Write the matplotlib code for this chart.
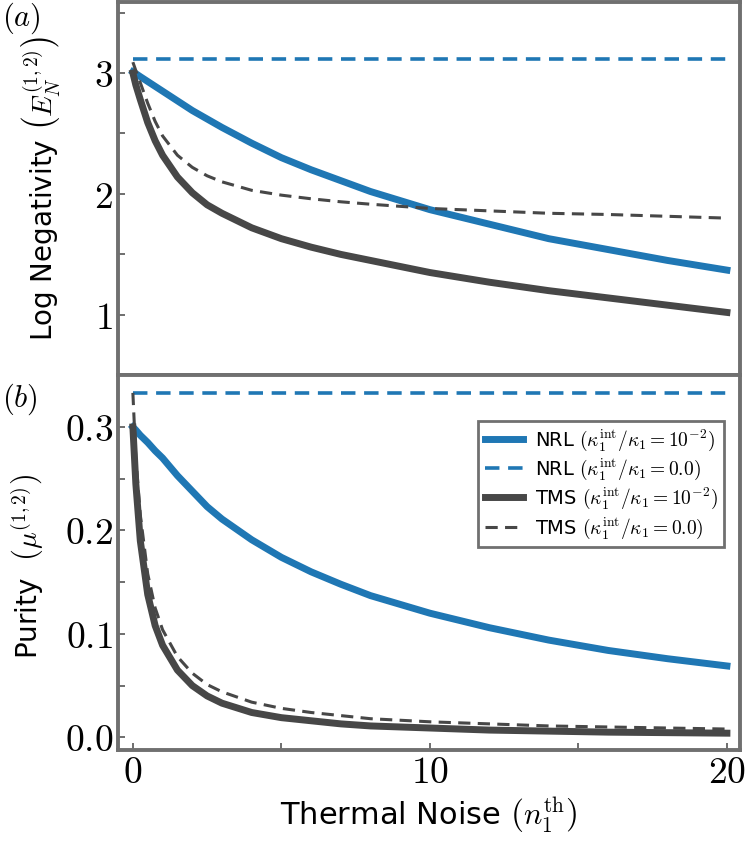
import numpy as np
import matplotlib
matplotlib.use('Agg')
import matplotlib.pyplot as plt
from matplotlib.ticker import FixedLocator, FormatStrFormatter, AutoMinorLocator

plt.rcParams['mathtext.fontset'] = 'cm'
plt.rcParams['font.family'] = 'DejaVu Sans'

# thermal noise grid
n_th = [0, 0.1, 0.25, 0.5, 0.75, 1, 1.5, 2, 2.5, 3, 4, 5, 6, 7, 8, 10, 12, 14, 16, 18, 20]

# (a) log negativity
logneg_nrl = [3.01, 2.995, 2.97, 2.93, 2.89, 2.85, 2.77, 2.69, 2.62, 2.55, 2.42, 2.30, 2.20, 2.11, 2.02, 1.87, 1.75, 1.63, 1.54, 1.45, 1.37]
logneg_nrl_ideal = [3.116] * len(n_th)
logneg_tms = [3.00, 2.90, 2.78, 2.59, 2.44, 2.32, 2.14, 2.01, 1.91, 1.84, 1.72, 1.63, 1.56, 1.50, 1.45, 1.35, 1.27, 1.20, 1.14, 1.08, 1.02]
logneg_tms_ideal = [3.09, 3.02, 2.92, 2.75, 2.60, 2.48, 2.32, 2.22, 2.15, 2.10, 2.03, 1.99, 1.96, 1.935, 1.915, 1.88, 1.86, 1.84, 1.83, 1.815, 1.80]

# (b) purity
purity_nrl = [0.300, 0.297, 0.292, 0.285, 0.277, 0.270, 0.253, 0.238, 0.223, 0.211, 0.191, 0.174, 0.160, 0.148, 0.137, 0.120, 0.106, 0.094, 0.084, 0.076, 0.069]
purity_nrl_ideal = [0.333] * len(n_th)
purity_tms = [0.300, 0.245, 0.190, 0.138, 0.108, 0.089, 0.065, 0.050, 0.040, 0.033, 0.024, 0.019, 0.016, 0.013, 0.011, 0.009, 0.007, 0.006, 0.005, 0.0045, 0.004]
purity_tms_ideal = [0.333, 0.270, 0.215, 0.158, 0.125, 0.104, 0.078, 0.062, 0.051, 0.044, 0.034, 0.028, 0.024, 0.021, 0.018, 0.015, 0.013, 0.011, 0.010, 0.009, 0.008]

labels = [r'NRL $(\kappa_1^{\rm int}/\kappa_1 = 10^{-2})$',
          r'NRL $(\kappa_1^{\rm int}/\kappa_1 = 0.0)$',
          r'TMS $(\kappa_1^{\rm int}/\kappa_1 = 10^{-2})$',
          r'TMS $(\kappa_1^{\rm int}/\kappa_1 = 0.0)$']

blue = '#1f77b4'
dark = '#474747'
spine_col = '#707070'

fig = plt.figure(figsize=(7.47, 8.51), dpi=100)
ax1 = fig.add_axes([0.158, 0.559, 0.833, 0.439])
ax2 = fig.add_axes([0.158, 0.119, 0.833, 0.440], sharex=ax1)

for ax, a, b, c, d in [(ax1, logneg_nrl, logneg_nrl_ideal, logneg_tms, logneg_tms_ideal),
                       (ax2, purity_nrl, purity_nrl_ideal, purity_tms, purity_tms_ideal)]:
    ax.plot(n_th, a, color=blue, lw=5, label=labels[0])
    ax.plot(n_th, b, color=blue, lw=2.6, ls='--', dashes=(4, 2.4), label=labels[1])
    ax.plot(n_th, c, color=dark, lw=5, label=labels[2])
    ax.plot(n_th, d, color=dark, lw=2.2, ls='--', dashes=(4, 2.4), label=labels[3])
    for s in ax.spines.values():
        s.set_color(spine_col)
        s.set_linewidth(2.8)
    ax.tick_params(which='both', direction='in', color='#555555', length=5, width=1.2,
                   labelsize=27)

ax1.set_xlim(-0.5, 20.45)
ax1.set_ylim(0.5, 3.59)
ax1.yaxis.set_major_locator(FixedLocator([1, 2, 3]))
ax1.yaxis.set_major_formatter(FormatStrFormatter('$%d$'))
ax1.yaxis.set_minor_locator(AutoMinorLocator(2))
ax1.tick_params(axis='x', which='both', bottom=False, labelbottom=False)

ax2.set_ylim(-0.012, 0.35)
ax2.yaxis.set_major_locator(FixedLocator([0.0, 0.1, 0.2, 0.3]))
ax2.yaxis.set_major_formatter(FormatStrFormatter('$%.1f$'))
ax2.yaxis.set_minor_locator(AutoMinorLocator(2))
ax2.xaxis.set_major_locator(FixedLocator([0, 10, 20]))
ax2.xaxis.set_major_formatter(FormatStrFormatter('$%d$'))
ax2.xaxis.set_minor_locator(AutoMinorLocator(2))

ax1.set_ylabel(r'Log Negativity $\left(E_N^{(1,2)}\right)$', fontsize=20)
ax1.yaxis.set_label_coords(-0.09, 0.5)
ax2.set_ylabel(r'Purity  $\left(\mu^{(1,2)}\right)$', fontsize=20)
ax2.yaxis.set_label_coords(-0.115, 0.49)
ax2.set_xlabel(r'Thermal Noise $\left(n_1^{\rm th}\right)$', fontsize=22, labelpad=4)

fig.text(0.003, 0.978, r'$(a)$', fontsize=22, va='center', ha='left')
fig.text(0.003, 0.531, r'$(b)$', fontsize=22, va='center', ha='left')

leg = ax2.legend(loc='upper right', fontsize=14, fancybox=False, framealpha=1,
                 edgecolor=spine_col, handlelength=1.95, borderpad=0.35,
                 labelspacing=0.2, handletextpad=0.6, bbox_to_anchor=(0.99, 0.905))
leg.get_frame().set_linewidth(2)

plt.savefig('out.png', dpi=100)
